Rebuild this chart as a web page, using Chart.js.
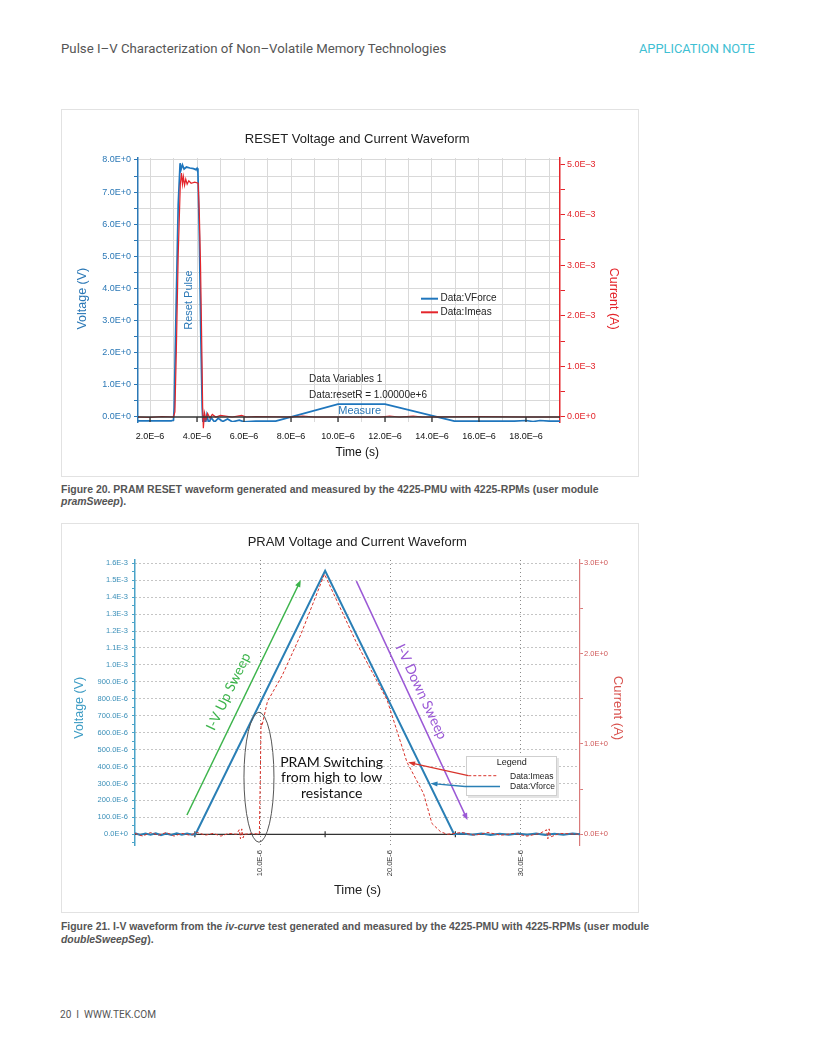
<!DOCTYPE html>
<html>
<head>
<meta charset="utf-8">
<script src="https://cdn.jsdelivr.net/npm/chart.js@4.4.0/dist/chart.umd.min.js"></script>
<style>
html,body{margin:0;padding:0;background:#fff;}
body{width:816px;height:1056px;position:relative;overflow:hidden;font-family:"Liberation Sans",Arial,sans-serif;}
.t{position:absolute;white-space:nowrap;transform:translateY(-50%);line-height:1.2;display:inline-block;}
.hdr{font-family:Roboto,"Liberation Sans",sans-serif;color:#555;font-size:13px;}
.cap{font-weight:bold;color:#555;font-size:9.5px;}
.box{position:absolute;border:1.5px solid #e2e2e2;box-sizing:border-box;}
canvas{position:absolute;}
</style>
</head>
<body>
<div class="t hdr" id="hdrL" style="left:61px;top:49px;">Pulse I–V Characterization of Non–Volatile Memory Technologies</div>
<div class="t hdr" id="hdrR" style="left:639px;top:49px;color:#3fc0d3;">APPLICATION NOTE</div>

<div class="box" style="left:61px;top:109px;width:578px;height:368px;"></div>
<canvas id="c1" width="578" height="368" style="left:61px;top:109px;"></canvas>
<div class="t cap" id="cap20a" style="left:61px;top:490px;">Figure 20. PRAM RESET waveform generated and measured by the 4225-PMU with 4225-RPMs (user module</div>
<div class="t cap" id="cap20b" style="left:61px;top:502px;"><i>pramSweep</i>).</div>

<div class="box" style="left:61px;top:523px;width:578px;height:390px;"></div>
<canvas id="c2" width="578" height="390" style="left:61px;top:523px;"></canvas>
<div class="t cap" id="cap21a" style="left:61px;top:927px;">Figure 21. I-V waveform from the <i>iv-curve</i> test generated and measured by the 4225-PMU with 4225-RPMs (user module</div>
<div class="t cap" id="cap21b" style="left:61px;top:940px;"><i>doubleSweepSeg</i>).</div>

<div class="t hdr" id="foot" style="left:60px;top:1015px;font-size:10px;">20&nbsp;&nbsp;I&nbsp;&nbsp;WWW.TEK.COM</div>

<script>
const FONT = '"Liberation Sans", Arial, Helvetica, sans-serif';
const LATO = 'Lato, "Open Sans", sans-serif';
const SP = n => '\u00a0'.repeat(n);   // used only to nudge centred titles

// ---------------- Figure 20 : RESET waveform ----------------
const resetVForceTimeUs = [1.49, 2.2, 2.9, 3.0, 3.03, 3.1, 3.2, 3.28, 3.32, 3.38, 3.45, 3.55, 3.7, 3.85, 3.95, 4.0, 4.04, 4.1, 4.16, 4.22, 4.26, 4.3, 4.35, 4.42, 4.5, 4.6, 4.75, 4.9, 5.1, 5.3, 5.5, 5.8, 6.0, 6.5, 7.35, 10.0, 12.0, 14.95, 17.5, 18.0, 18.3, 18.6, 19.0, 19.45];
const resetVForceV = [-0.12, -0.12, -0.12, -0.1, 0.3, 3.0, 6.6, 7.9, 7.7, 7.85, 7.72, 7.78, 7.75, 7.73, 7.7, 7.74, 7.6, 5.6, 2.6, 0.3, -0.32, 0.05, -0.25, 0.06, -0.2, -0.02, -0.16, -0.04, -0.14, -0.06, -0.15, -0.1, -0.15, -0.13, -0.13, 0.4, 0.4, -0.13, -0.13, -0.11, -0.14, -0.11, -0.13, -0.13];
const resetImeasTimeUs = [1.49, 2.0, 2.5, 3.0, 3.06, 3.12, 3.2, 3.29, 3.34, 3.38, 3.42, 3.47, 3.52, 3.58, 3.65, 3.75, 3.9, 4.05, 4.1, 4.15, 4.2, 4.24, 4.27, 4.32, 4.38, 4.45, 4.55, 4.65, 4.8, 5.0, 5.5, 5.9, 6.1, 6.5, 8.0, 8.5, 9.0, 11.8, 12.2, 12.6, 13.2, 13.6, 16.0, 18.0, 19.45];
const resetImeasA = [0, -0.01e-3, 0.01e-3, 0, 0.1e-3, 1.3e-3, 3.2e-3, 4.6e-3, 4.82e-3, 4.6e-3, 4.75e-3, 4.58e-3, 4.7e-3, 4.6e-3, 4.67e-3, 4.62e-3, 4.64e-3, 4.62e-3, 4.0e-3, 3.0e-3, 1.5e-3, 0.2e-3, -0.22e-3, 0.08e-3, -0.05e-3, 0.07e-3, -0.02e-3, 0.05e-3, 0, 0.03e-3, 0, 0.03e-3, 0, 0.01e-3, 0, 0.02e-3, 0, 0, 0.02e-3, 0, 0.02e-3, 0, 0.01e-3, 0, 0];
const resetXTickUs = [2, 3, 4, 5, 6, 7, 8, 9, 10, 11, 12, 13, 14, 15, 16, 17, 18, 19];
const resetXTickLabels = ['2.0E–6', '', '4.0E–6', '', '6.0E–6', '', '8.0E–6', '', '10.0E–6', '', '12.0E–6', '', '14.0E–6', '', '16.0E–6', '', '18.0E–6', ''];
const resetXMarkUs = [2, 4, 6, 8, 10, 12, 14, 16, 18];
const resetVTicks = [0, 0.5, 1, 1.5, 2, 2.5, 3, 3.5, 4, 4.5, 5, 5.5, 6, 6.5, 7, 7.5, 8];
const resetVTickLabels = ['0.0E+0', '', '1.0E+0', '', '2.0E+0', '', '3.0E+0', '', '4.0E+0', '', '5.0E+0', '', '6.0E+0', '', '7.0E+0', '', '8.0E+0'];
const resetITicks = [0, 0.5e-3, 1e-3, 1.5e-3, 2e-3, 2.5e-3, 3e-3, 3.5e-3, 4e-3, 4.5e-3, 5e-3];
const resetITickLabels = ['0.0E+0', '', '1.0E–3', '', '2.0E–3', '', '3.0E–3', '', '4.0E–3', '', '5.0E–3'];

// ---------------- Figure 21 : PRAM I-V double sweep ----------------
const pramVForceTimeUs = [0.4, 0.8, 1.2, 1.6, 2.0, 2.4, 2.8, 3.2, 3.6, 4.0, 4.4, 4.8, 5.05, 15.0, 24.9, 25.6, 26.3, 27.0, 27.7, 28.4, 29.1, 29.8, 30.5, 31.2, 31.9, 32.6, 33.3, 34.0, 34.57];
const pramVForceV = [0.006e-3, -0.004e-3, 0.005e-3, -0.003e-3, 0.006e-3, -0.005e-3, 0.004e-3, -0.004e-3, 0.006e-3, -0.003e-3, 0.005e-3, -0.002e-3, 0, 1.556e-3, 0, 0.004e-3, -0.003e-3, 0.005e-3, -0.004e-3, 0.003e-3, -0.003e-3, 0.005e-3, -0.002e-3, 0.004e-3, -0.004e-3, 0.003e-3, -0.003e-3, 0.004e-3, 0];
const pramImeasTimeUs = [0.4, 1.0, 1.6, 2.2, 2.8, 3.4, 4.0, 4.6, 5.2, 5.8, 6.4, 7.0, 7.6, 8.2, 8.4, 8.5, 8.6, 8.7, 8.8, 9.4, 9.95, 10.02, 10.08, 10.15, 10.57, 11.71, 13.13, 14.95, 17.44, 19.75, 21.28, 22.56, 23.2, 23.85, 24.36, 25.5, 26.5, 27.5, 28.5, 29.5, 30.5, 31.5, 32.0, 32.1, 32.2, 32.3, 33.0, 34.57];
const pramImeasA = [0.01, -0.02, 0.02, -0.01, 0.02, -0.02, 0.01, -0.01, 0.02, -0.01, 0.01, -0.02, 0.01, 0.0, 0.05, -0.05, 0.06, -0.04, 0.0, 0.01, 0.0, 0.6, 1.23, 1.2, 1.47, 1.76, 2.21, 2.88, 2.11, 1.49, 0.80, 0.45, 0.12, 0.03, 0.0, 0.02, -0.01, 0.02, -0.01, 0.01, -0.02, 0.01, 0.05, -0.05, 0.06, -0.03, 0.01, 0.0];
const pramXTickUs = [10, 20, 30];
const pramXTickLabels = ['10.0E-6', '20.0E-6', '30.0E-6'];
const pramXMarkUs = [5, 15, 25];
const pramVTicks = [-0.05e-3, 0, 0.05e-3, 0.1e-3, 0.15e-3, 0.2e-3, 0.25e-3, 0.3e-3, 0.35e-3, 0.4e-3, 0.45e-3, 0.5e-3, 0.55e-3, 0.6e-3, 0.65e-3, 0.7e-3, 0.75e-3, 0.8e-3, 0.85e-3, 0.9e-3, 0.95e-3, 1.0e-3, 1.05e-3, 1.1e-3, 1.15e-3, 1.2e-3, 1.25e-3, 1.3e-3, 1.35e-3, 1.4e-3, 1.45e-3, 1.5e-3, 1.55e-3, 1.6e-3];
const pramVTickLabels = ['', '0.0E+0', '', '100.0E-6', '', '200.0E-6', '', '300.0E-6', '', '400.0E-6', '', '500.0E-6', '', '600.0E-6', '', '700.0E-6', '', '800.0E-6', '', '900.0E-6', '', '1.0E-3', '', '1.1E-3', '', '1.2E-3', '', '1.3E-3', '', '1.4E-3', '', '1.5E-3', '', '1.6E-3'];
const pramITicks = [0, 0.5, 1, 1.5, 2, 2.5, 3];
const pramITickLabels = ['0.0E+0', '', '1.0E+0', '', '2.0E+0', '', '3.0E+0'];

// ---------------- helpers ----------------
const toXY = (xs, ys) => xs.map((x, i) => ({x: x, y: ys[i]}));
const setTicks = vals => s => { s.ticks = vals.map(v => ({value: v})); };

function P(chart, p) {
  const ca = chart.chartArea;
  if (p.xv !== undefined) {
    return {x: chart.scales.x.getPixelForValue(p.xv) + (p.ox || 0),
            y: chart.scales[p.ax || 'y'].getPixelForValue(p.yv) + (p.oy || 0)};
  }
  return {x: ca.left + p.dx, y: ca.top + p.dy};
}

function drawZero(chart, z) {
  const ctx = chart.ctx, ca = chart.chartArea;
  const y = chart.scales.y.getPixelForValue(0);
  ctx.save();
  ctx.strokeStyle = z.color; ctx.lineWidth = z.width;
  ctx.beginPath(); ctx.moveTo(ca.left, y); ctx.lineTo(ca.right, y); ctx.stroke();
  (z.marks || []).forEach(v => {
    const x = chart.scales.x.getPixelForValue(v);
    ctx.beginPath(); ctx.moveTo(x, y + z.markFrom); ctx.lineTo(x, y + z.markTo); ctx.stroke();
  });
  ctx.restore();
}

function arrowLine(ctx, a, b, it) {
  ctx.strokeStyle = it.color; ctx.lineWidth = it.width || 1; ctx.setLineDash(it.dash || []);
  const ang = Math.atan2(b.y - a.y, b.x - a.x);
  let ex = b.x, ey = b.y;
  if (it.head) { ex = b.x - Math.cos(ang) * it.head * 0.7; ey = b.y - Math.sin(ang) * it.head * 0.7; }
  ctx.beginPath(); ctx.moveTo(a.x, a.y); ctx.lineTo(ex, ey); ctx.stroke();
  if (it.head) {
    const L = it.head, W = it.headW || it.head * 0.4;
    const c = Math.cos(ang), s = Math.sin(ang);
    ctx.setLineDash([]); ctx.fillStyle = it.color;
    ctx.beginPath();
    ctx.moveTo(b.x, b.y);
    ctx.lineTo(b.x - L * c + W * s, b.y - L * s - W * c);
    ctx.lineTo(b.x - L * c - W * s, b.y - L * s + W * c);
    ctx.closePath(); ctx.fill();
  }
}

function drawItem(chart, it) {
  const ctx = chart.ctx;
  ctx.save();
  if (it.type === 'text') {
    const p = P(chart, it.at);
    ctx.font = it.font; ctx.fillStyle = it.color;
    ctx.textAlign = it.align || 'center'; ctx.textBaseline = 'middle';
    ctx.translate(p.x, p.y);
    let rot = 0;
    if (it.rotAlong) { const a = P(chart, it.rotAlong[0]), b = P(chart, it.rotAlong[1]); rot = Math.atan2(b.y - a.y, b.x - a.x); }
    else if (it.rot) rot = it.rot * Math.PI / 180;
    ctx.rotate(rot);
    const lines = it.lines || [it.text], lh = it.lh || 0;
    lines.forEach((t, i) => ctx.fillText(t, 0, (i - (lines.length - 1) / 2) * lh));
  } else if (it.type === 'line') {
    arrowLine(ctx, P(chart, it.from), P(chart, it.to), it);
  } else if (it.type === 'ellipse') {
    const p = P(chart, it.at);
    ctx.strokeStyle = it.color; ctx.lineWidth = it.width || 1;
    ctx.beginPath(); ctx.ellipse(p.x, p.y, it.rx, it.ry, 0, 0, Math.PI * 2); ctx.stroke();
  } else if (it.type === 'rect') {
    const p = P(chart, it.at);
    if (it.shadow) { ctx.fillStyle = it.shadow; ctx.fillRect(p.x + 2, p.y + 2, it.w, it.h); }
    ctx.fillStyle = it.fill; ctx.fillRect(p.x, p.y, it.w, it.h);
    ctx.strokeStyle = it.stroke; ctx.lineWidth = 1; ctx.strokeRect(p.x + 0.5, p.y + 0.5, it.w - 1, it.h - 1);
  } else if (it.type === 'legend') {
    const ds = chart.data.datasets[it.ds];
    const a = P(chart, it.from), b = P(chart, it.to);
    ctx.strokeStyle = ds.borderColor; ctx.lineWidth = it.width || ds.borderWidth;
    ctx.setLineDash(ds.borderDash || []);
    ctx.beginPath(); ctx.moveTo(a.x, a.y); ctx.lineTo(b.x, b.y); ctx.stroke();
    const t = P(chart, it.textAt);
    ctx.setLineDash([]);
    ctx.font = it.font; ctx.fillStyle = it.color; ctx.textAlign = 'left'; ctx.textBaseline = 'middle';
    ctx.fillText(ds.label, t.x, t.y);
  }
  ctx.restore();
}

const annotPlugin = {
  id: 'annot',
  beforeDatasetsDraw(chart, args, o) { if (o.zero && o.zero.under) drawZero(chart, o.zero); },
  afterDatasetsDraw(chart, args, o) {
    if (o.zero && !o.zero.under) drawZero(chart, o.zero);
    (o.items || []).forEach(it => drawItem(chart, it));
  }
};

// ---------------- Figure 20 chart ----------------
const BLUE1 = '#1f76bd', RED1 = '#e4252b', AX1 = '#2b78b6';
new Chart(document.getElementById('c1'), {
  type: 'line',
  data: {
    datasets: [
      {label: 'Data:Imeas', data: toXY(resetImeasTimeUs, resetImeasA), yAxisID: 'y1', borderColor: RED1, borderWidth: 1.2, pointRadius: 0, clip: {left: 0, top: 0, right: 0, bottom: 8}},
      {label: 'Data:VForce', data: toXY(resetVForceTimeUs, resetVForceV), yAxisID: 'y', borderColor: BLUE1, borderWidth: 1.7, pointRadius: 0}
    ]
  },
  options: {
    responsive: false, animation: false, events: [],
    layout: {padding: 0},
    plugins: {
      legend: {display: false}, tooltip: {enabled: false},
      title: {display: true, text: SP(4) + 'RESET Voltage and Current Waveform', color: '#222', font: {family: FONT, size: 13, weight: 'normal'}, padding: {top: 22.2, bottom: 11.2}},
      annot: {
        zero: {under: false, color: '#333', width: 1.3, marks: resetXMarkUs, markFrom: 0, markTo: 5},
        items: [
          {type: 'text', at: {xv: 3.66, yv: 3.64}, text: 'Reset Pulse', rot: -90, font: '11px ' + FONT, color: AX1},
          {type: 'text', at: {xv: 8.77, yv: 1.16}, text: 'Data Variables 1', align: 'left', font: '10px ' + FONT, color: '#222'},
          {type: 'text', at: {xv: 8.77, yv: 0.685}, text: 'Data:resetR = 1.00000e+6', align: 'left', font: '10px ' + FONT, color: '#222'},
          {type: 'text', at: {xv: 10.92, yv: 0.196}, text: 'Measure', font: '11px ' + FONT, color: AX1},
          {type: 'legend', ds: 1, from: {dx: 283, dy: 140.7}, to: {dx: 300, dy: 140.7}, width: 2, textAt: {dx: 302.5, dy: 140.7}, font: '10px ' + FONT, color: '#222'},
          {type: 'legend', ds: 0, from: {dx: 283, dy: 154.3}, to: {dx: 300, dy: 154.3}, width: 2, textAt: {dx: 302.5, dy: 154.3}, font: '10px ' + FONT, color: '#222'}
        ]
      }
    },
    scales: {
      x: {
        type: 'linear', min: 1.489, max: 19.447,
        afterBuildTicks: setTicks(resetXTickUs),
        afterFit: s => { s.height = 55; },
        ticks: {autoSkip: false, maxRotation: 0, minRotation: 0, padding: 9.5, color: '#111', font: {family: FONT, size: 9}, callback: (v, i) => resetXTickLabels[i]},
        grid: {color: '#d9d9d9', lineWidth: 1, drawTicks: false},
        border: {display: false},
        title: {display: true, text: SP(5) + 'Time (s)', color: '#111', font: {family: FONT, size: 12}, padding: {top: 0, bottom: 16.8}}
      },
      y: {
        type: 'linear', position: 'left', min: -0.156, max: 8.062,
        afterBuildTicks: setTicks(resetVTicks),
        afterFit: s => { s.width = 77; },
        ticks: {autoSkip: false, padding: 3, color: AX1, font: {family: FONT, size: 9}, callback: (v, i) => resetVTickLabels[i]},
        grid: {color: c => (c.tick && c.tick.value === 0) ? 'rgba(0,0,0,0)' : '#d9d9d9', tickColor: AX1, tickLength: 4},
        border: {color: AX1, width: 1.5},
        title: {display: true, text: 'Voltage (V)' + SP(5), color: AX1, font: {family: FONT, size: 12.5}, padding: {top: 14.5, bottom: 0}}
      },
      y1: {
        type: 'linear', position: 'right', min: -0.099e-3, max: 5.119e-3,
        afterBuildTicks: setTicks(resetITicks),
        afterFit: s => { s.width = 79; },
        ticks: {autoSkip: false, padding: 2, color: RED1, font: {family: FONT, size: 9}, callback: (v, i) => resetITickLabels[i]},
        grid: {drawOnChartArea: false, tickColor: RED1, tickLength: 5},
        border: {color: RED1, width: 1.5},
        title: {display: true, text: SP(5) + 'Current (A)', color: RED1, font: {family: FONT, size: 12.5}, padding: {top: 18.5, bottom: 0}}
      }
    }
  },
  plugins: [annotPlugin]
});

// ---------------- Figure 21 chart ----------------
const BLUE2 = '#2a7fb5', RED2 = '#d8342c', AXL2 = '#4aa3c8', AXR2 = '#d97a7a';
const GREEN = '#3cb44b', PURPLE = '#9b59d6';
const upFrom = {xv: 4.39, yv: 0.114e-3}, upTo = {xv: 13.13, yv: 1.501e-3};
const dnFrom = {xv: 17.40, yv: 1.495e-3}, dnTo = {xv: 25.93, yv: 0.084e-3};
new Chart(document.getElementById('c2'), {
  type: 'line',
  data: {
    datasets: [
      {label: 'Data:Imeas', data: toXY(pramImeasTimeUs, pramImeasA), yAxisID: 'y1', borderColor: RED2, borderWidth: 1, borderDash: [3, 2], pointRadius: 0},
      {label: 'Data:Vforce', data: toXY(pramVForceTimeUs, pramVForceV), yAxisID: 'y', borderColor: BLUE2, borderWidth: 2, pointRadius: 0}
    ]
  },
  options: {
    responsive: false, animation: false, events: [],
    layout: {padding: 0},
    plugins: {
      legend: {display: false}, tooltip: {enabled: false},
      title: {display: true, text: SP(4) + 'PRAM Voltage and Current Waveform', color: '#222', font: {family: FONT, size: 13, weight: 'normal'}, padding: {top: 11.2, bottom: 10.2}},
      annot: {
        zero: {under: true, color: '#333', width: 1.2, marks: pramXMarkUs, markFrom: -3, markTo: 3},
        items: [
          {type: 'line', from: upFrom, to: upTo, color: GREEN, width: 1.5, head: 7, headW: 2.8},
          {type: 'text', at: {xv: 7.58, yv: 0.842e-3}, text: 'I-V Up Sweep', rotAlong: [upFrom, upTo], font: '14px ' + LATO, color: GREEN},
          {type: 'line', from: dnFrom, to: dnTo, color: PURPLE, width: 1.5, head: 7, headW: 2.8},
          {type: 'text', at: {xv: 22.37, yv: 0.842e-3}, text: 'I-V Down Sweep', rotAlong: [dnFrom, dnTo], font: '14px ' + LATO, color: PURPLE},
          {type: 'ellipse', at: {xv: 9.92, yv: 0.337e-3}, rx: 15, ry: 65, color: '#555', width: 1},
          {type: 'text', at: {xv: 15.5, yv: 0.334e-3}, lines: ['PRAM Switching', 'from high to low', 'resistance'], lh: 15.5, font: '14px ' + LATO, color: '#111'},
          {type: 'rect', at: {dx: 331, dy: 196}, w: 91, h: 40, fill: '#fff', stroke: '#cfcfcf', shadow: '#e4e4e4'},
          {type: 'text', at: {dx: 376.7, dy: 202.7}, text: 'Legend', font: '9px ' + FONT, color: '#222'},
          {type: 'legend', ds: 0, from: {dx: 333.3, dy: 215.7}, to: {dx: 363.3, dy: 215.7}, width: 1, textAt: {dx: 375, dy: 216.2}, font: '8.5px ' + FONT, color: '#222'},
          {type: 'legend', ds: 1, from: {dx: 330, dy: 226.5}, to: {dx: 365, dy: 226.5}, width: 1.3, textAt: {dx: 375, dy: 226.8}, font: '8.5px ' + FONT, color: '#222'},
          {type: 'line', from: {dx: 333.3, dy: 215.7}, to: {xv: 21.37, yv: 0.797, ax: 'y1'}, color: RED2, width: 1.3, head: 7, headW: 2.5},
          {type: 'line', from: {dx: 330, dy: 226.5}, to: {xv: 23.09, yv: 0.3e-3}, color: BLUE2, width: 1.3, head: 7, headW: 2.5}
        ]
      }
    },
    scales: {
      x: {
        type: 'linear', min: 0.403, max: 34.568,
        afterBuildTicks: setTicks(pramXTickUs),
        afterFit: s => { s.height = 68; },
        ticks: {autoSkip: false, maxRotation: 90, minRotation: 90, padding: 5, color: '#333', font: {family: FONT, size: 7.5}, callback: (v, i) => pramXTickLabels[i]},
        grid: {color: '#8a8a8a', lineWidth: 1, drawTicks: false},
        border: {display: false, dash: [1, 3]},
        title: {display: true, text: 'Time (s)', color: '#222', font: {family: FONT, size: 13}, padding: {top: 0, bottom: 15.2}}
      },
      y: {
        type: 'linear', position: 'left', min: -0.0632e-3, max: 1.6195e-3,
        afterBuildTicks: setTicks(pramVTicks),
        afterFit: s => { s.width = 74; },
        ticks: {autoSkip: false, padding: 4, color: '#3a8fb8', font: {family: FONT, size: 7.5}, callback: (v, i) => pramVTickLabels[i]},
        grid: {color: c => (pramVTickLabels[c.index] && c.tick.value !== 0) ? '#8a8a8a' : 'rgba(0,0,0,0)', tickColor: AXL2, tickLength: 3},
        border: {color: AXL2, width: 1.5, dash: [1, 3]},
        title: {display: true, text: 'Voltage (V)' + SP(3), color: '#3d9cc4', font: {family: FONT, size: 12.5}, padding: {top: 11.5, bottom: 0}}
      },
      y1: {
        type: 'linear', position: 'right', min: -0.1185, max: 3.0365,
        afterBuildTicks: setTicks(pramITicks),
        afterFit: s => { s.width = 59; },
        ticks: {autoSkip: false, padding: 1, color: '#d05a5a', font: {family: FONT, size: 7.5}, callback: (v, i) => pramITickLabels[i]},
        grid: {drawOnChartArea: false, tickColor: AXR2, tickLength: 3},
        border: {color: AXR2, width: 1.2},
        title: {display: true, text: SP(3) + 'Current (A)', color: '#d9534f', font: {family: FONT, size: 13}, padding: {top: 13.2, bottom: 0}}
      }
    }
  },
  plugins: [annotPlugin]
});

// ---------------- fit HTML text widths ----------------
function fitW(id, w) {
  const el = document.getElementById(id);
  const cur = el.getBoundingClientRect().width;
  const fs = parseFloat(getComputedStyle(el).fontSize);
  const nf = fs * w / cur;
  el.style.fontSize = nf + 'px';
  return nf;
}
function fitAll() {
  fitW('hdrL', 385);
  fitW('hdrR', 116);
  const f20 = fitW('cap20a', 537);
  document.getElementById('cap20b').style.fontSize = f20 + 'px';
  const f21 = fitW('cap21a', 588);
  document.getElementById('cap21b').style.fontSize = f21 + 'px';
  fitW('foot', 96);
}
fitAll();
if (document.fonts && document.fonts.ready) document.fonts.ready.then(fitAll);
</script>
</body>
</html>
